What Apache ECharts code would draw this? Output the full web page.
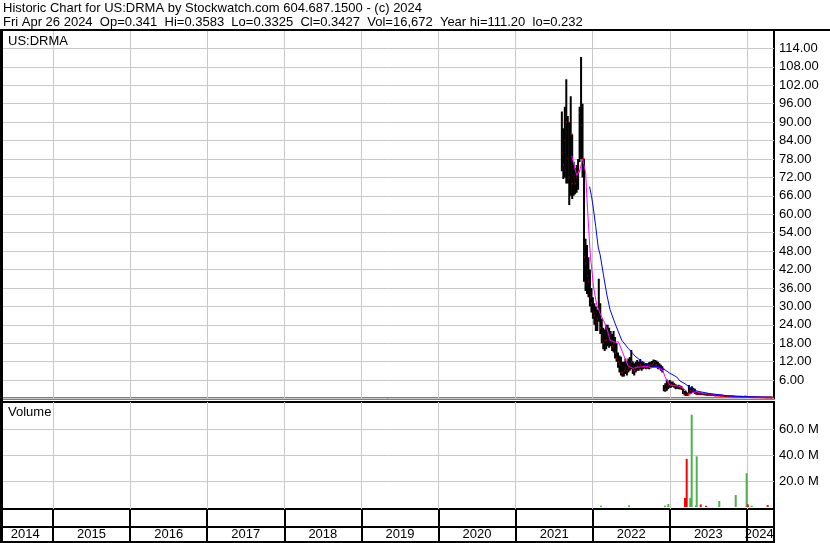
<!DOCTYPE html>
<html>
<head>
<meta charset="utf-8">
<script src="https://cdn.jsdelivr.net/npm/echarts@6/dist/echarts.min.js"></script>
<style>
  html, body { margin: 0; padding: 0; background: #fff; }
  #chart { width: 830px; height: 543px; }
</style>
</head>
<body>
<div id="chart"></div>
<script>
// weekly bars, first week starts early Aug 2021 (decimal years)
const FIRST_WEEK = 2021.60;
const highs = [93.5, 88, 95, 104, 92, 90, 98.4, 86, 77, 75, 76, 78, 95, 111.2, 96,
  78, 52, 50, 46, 42, 36, 33, 31, 30, 29, 39, 31, 26, 23, 22.5, 24, 24, 23, 22, 21, 22, 20,
  18, 15, 14, 13.6, 12, 12, 13, 12, 13, 13.5, 15.8, 12, 11.5, 12, 12.5, 12, 12.9, 12, 12,
  11.5, 11.5, 11.5, 11.8, 12, 12.2, 12.7, 12.5, 12.4, 12, 11.5, 11, 10.5,
  4.4, 5, 6.2, 5.5, 6, 5.5, 5.5, 5, 4.6, 4.4, 4.5, 4.2, 4, 3, 2.5, 2.5, 2,
  4.4, 3.5, 4, 3.5, 3.2, 2.2, 2, 2, 1.9, 1.8, 1.8, 1.7, 1.7, 1.6, 1.6, 1.5, 1.5, 1.4, 1.4,
  1.3, 1.3, 1.2, 1.2, 1.1, 1.1, 1.0, 1.0, 1.0, 0.95, 0.9, 0.9, 0.85, 0.85, 0.8, 0.8, 0.75,
  0.75, 0.7, 0.9, 0.8, 0.7, 0.65, 0.6, 0.6, 0.55, 0.55, 0.52, 0.5, 0.5, 0.48, 0.46, 0.45,
  0.44, 0.44, 0.42, 0.4, 0.3583];
const lows = [74, 71.5, 72, 70, 70, 63, 66, 65, 66, 66.5, 67, 68, 77, 78, 72,
  38, 35, 34, 33, 30, 28, 26, 24, 22, 22, 25, 21, 18, 16, 15.5, 16, 17, 16.5, 17, 15.5, 15, 13,
  12, 10, 8.5, 7.5, 7.1, 7.2, 8, 7.5, 8.5, 9, 9.5, 8, 7.5, 8.5, 9, 9, 9.5, 9, 9.5,
  9.8, 9.5, 9.8, 9.5, 9.8, 10, 10, 10.2, 10, 9.5, 9.5, 9, 8.5,
  2.4, 2.2, 2.5, 3, 3.5, 3.5, 3.8, 3.5, 3, 3.2, 3, 3, 2.8, 1.5, 1, 0.8, 0.8,
  1.5, 1.5, 1.8, 2, 1.5, 1.2, 1.2, 1.2, 1.2, 1.2, 1.1, 1.1, 1.0, 1.0, 1.0, 1.0, 0.9, 0.9, 0.9,
  0.8, 0.8, 0.8, 0.7, 0.7, 0.7, 0.6, 0.6, 0.6, 0.6, 0.55, 0.55, 0.5, 0.5, 0.5, 0.45, 0.45,
  0.45, 0.4, 0.45, 0.4, 0.4, 0.38, 0.35, 0.35, 0.33, 0.33, 0.32, 0.3, 0.3, 0.3, 0.29, 0.29,
  0.28, 0.28, 0.27, 0.3, 0.3325];
const closes = [80, 76, 84, 90, 78, 72, 86, 70, 72, 70, 72, 74, 93, 89, 78,
  46, 44, 40, 38, 33, 31, 28, 27, 25, 26, 30, 23, 20, 18, 19, 19, 21, 19, 19, 17, 18, 15,
  13, 12, 11, 8.5, 8.5, 9, 10, 9, 10, 11, 12, 9.5, 9, 10, 10.5, 10, 11, 10, 10.5,
  10.5, 10, 10.4, 10.5, 11, 11, 11.5, 11, 11, 10.5, 10, 10, 9.5,
  3, 3, 4, 4.5, 5, 4.5, 4.8, 4.2, 4, 4, 3.8, 3.5, 3.2, 2, 1.5, 1.2, 1.2,
  2, 2.5, 2.8, 2.5, 1.8, 1.5, 1.5, 1.4, 1.5, 1.4, 1.3, 1.3, 1.2, 1.2, 1.2, 1.1, 1.1, 1.0, 1.0,
  1.0, 0.9, 0.9, 0.9, 0.8, 0.8, 0.8, 0.7, 0.7, 0.7, 0.65, 0.65, 0.6, 0.6, 0.6, 0.55, 0.55,
  0.5, 0.5, 0.55, 0.5, 0.45, 0.45, 0.42, 0.42, 0.4, 0.4, 0.38, 0.38, 0.36, 0.36, 0.35, 0.35,
  0.34, 0.34, 0.34, 0.35, 0.3427];

// short moving average (magenta)
const maFastT = [2021.728, 2021.793, 2021.829, 2021.870, 2021.909, 2021.922, 2021.943, 2021.956,
  2021.971, 2021.987, 2022.008, 2022.023, 2022.052, 2022.095, 2022.138, 2022.182, 2022.202,
  2022.224, 2022.289, 2022.332, 2022.376, 2022.419, 2022.462, 2022.527, 2022.575, 2022.636,
  2022.691, 2022.743, 2022.808, 2022.873, 2022.912, 2022.938, 2022.970, 2023.003, 2023.054,
  2023.110, 2023.158, 2023.197, 2023.236, 2023.262, 2023.301, 2023.349, 2023.392, 2023.457,
  2023.521, 2023.625, 2023.738, 2023.911, 2024.040, 2024.170, 2024.320];
const maFastV = [79, 72.7, 74, 78, 73.4, 66.7, 57.5, 52, 46, 42.5, 37, 34.5, 30.5, 27.7, 25.5,
  23, 21.2, 19, 18.3, 18.5, 15.8, 13, 10.5, 9.8, 10.2, 10.3, 10.5, 10.1, 10.2, 9.8, 9, 7.1,
  5.5, 4.4, 4.2, 4.1, 3.6, 2.8, 1.8, 1.4, 2.0, 2.2, 1.9, 1.6, 1.5, 1.2, 0.9, 0.6, 0.45, 0.35, 0.3];

// long moving average (blue)
const maSlowT = [2021.959, 2021.984, 2022.008, 2022.039, 2022.073, 2022.095, 2022.138, 2022.182,
  2022.224, 2022.289, 2022.376, 2022.462, 2022.549, 2022.614, 2022.678, 2022.743, 2022.808,
  2022.873, 2022.938, 2023.003, 2023.090, 2023.132, 2023.197, 2023.262, 2023.327, 2023.392,
  2023.521, 2023.651, 2023.781, 2023.975, 2024.170, 2024.320];
const maSlowV = [69, 66, 62, 56, 49, 47, 40.5, 34, 29, 24.5, 19, 16.3, 13.8, 12.5, 11.5, 10.8,
  10.4, 10.3, 9.3, 8.2, 7, 5.7, 4.8, 3.6, 2.6, 2.2, 1.6, 1.2, 0.8, 0.6, 0.5, 0.45];

// volume
const volT = [2022.108, 2022.471, 2022.938, 2022.981, 2023.197, 2023.219, 2023.266, 2023.284,
  2023.340, 2023.349, 2023.401, 2023.470, 2023.642, 2023.855, 2023.997, 2024.012, 2024.062, 2024.270];
const volV = [1.0e6, 1.3e6, 1.0e6, 2.3e6, 7e6, 37e6, 7e6, 71e6, 1e6, 39e6, 2e6, 1e6, 4.6e6,
  9.2e6, 26e6, 2e6, 1e6, 1.5e6];
const volUp = [true, true, true, true, false, false, true, true, false, true, false, false,
  true, true, true, false, true, false];

const yearStarts = [2015, 2016, 2017, 2018, 2019, 2020, 2021, 2022, 2023, 2024];
const yearLabelAt = [2014.64, 2015.5, 2016.5, 2017.5, 2018.5, 2019.5, 2020.5, 2021.5, 2022.5, 2023.5, 2024.16];
const volTicks = [20e6, 40e6, 60e6];

const X_MIN = 2014.3256, X_MAX = 2024.3515;
const FONT = 'Liberation Sans, Arial, sans-serif';
const GRID_GRAY = '#c8c8c8';

const weeks = highs.map((_, i) => FIRST_WEEK + i * 7 / 365.25);
const bars = weeks.map((t, i) => [t, highs[i], lows[i], closes[i]]);

function renderBar(params, api) {
  const t = api.value(0);
  const hi = api.coord([t, api.value(1)]);
  const lo = api.coord([t, api.value(2)]);
  const cl = api.coord([t, api.value(3)]);
  return {
    type: 'group',
    children: [
      { type: 'rect', shape: { x: hi[0] - 1, y: hi[1], width: 2, height: Math.max(lo[1] - hi[1], 1) }, style: { fill: '#000' } },
      { type: 'rect', shape: { x: cl[0], y: cl[1] - 1, width: 2, height: 2 }, style: { fill: '#ff0000' } }
    ]
  };
}

const yearAxis = (gridIndex, color, width) => ({
  type: 'value', gridIndex, min: X_MIN, max: X_MAX,
  axisLine: { show: false },
  axisTick: { show: false, customValues: yearStarts },
  axisLabel: { show: false },
  splitLine: { show: true, lineStyle: { color, width } }
});

const chart = echarts.init(document.getElementById('chart'));

const labelAxis = yearAxis(3, '#000', 2);
labelAxis.axisLabel = {
  show: true, customValues: yearLabelAt, margin: -14,
  color: '#000', fontSize: 13, fontFamily: FONT,
  formatter: v => String(Math.floor(v))
};

chart.setOption({
  animation: false,
  backgroundColor: '#fff',
  title: [
    {
      text: 'Historic Chart for US:DRMA by Stockwatch.com 604.687.1500 - (c) 2024\n' +
        'Fri Apr 26 2024  Op=0.341  Hi=0.3583  Lo=0.3325  Cl=0.3427  Vol=16,672  Year hi=111.20  lo=0.232',
      left: 3, top: 1, padding: 0,
      textStyle: { fontSize: 13, fontWeight: 'normal', color: '#000', fontFamily: FONT, lineHeight: 14 }
    },
    {
      text: 'US:DRMA', left: 8, top: 35, padding: 0,
      textStyle: { fontSize: 13, fontWeight: 'normal', color: '#000', fontFamily: FONT }
    },
    {
      text: 'Volume', left: 8, top: 406, padding: 0,
      textStyle: { fontSize: 13, fontWeight: 'normal', color: '#000', fontFamily: FONT }
    }
  ],
  graphic: [
    { type: 'rect', shape: { x: 0, y: 29, width: 830, height: 2 }, style: { fill: '#000' }, z: 100 },
    { type: 'rect', shape: { x: 0, y: 29, width: 3, height: 514 }, style: { fill: '#000' }, z: 100 }
  ],
  grid: [
    { left: 1, width: 773, top: 30, height: 368.5, show: true, borderColor: '#000', borderWidth: 2, backgroundColor: '#fff' },
    { left: 1, width: 773, top: 402, height: 107, show: true, borderColor: '#000', borderWidth: 2, backgroundColor: '#fff' },
    { left: 1, width: 773, top: 509, height: 18, show: true, borderColor: '#000', borderWidth: 2, backgroundColor: '#fff' },
    { left: 1, width: 773, top: 527, height: 15, show: true, borderColor: '#000', borderWidth: 2, backgroundColor: '#fff' }
  ],
  xAxis: [
    yearAxis(0, GRID_GRAY, 1),
    yearAxis(1, GRID_GRAY, 1),
    yearAxis(2, '#000', 2),
    labelAxis
  ],
  yAxis: [
    {
      type: 'value', gridIndex: 0, position: 'right', min: 0, max: 120, interval: 6,
      axisLine: { show: false }, axisTick: { show: false },
      axisLabel: {
        margin: 5, color: '#000', fontSize: 13, fontFamily: FONT,
        formatter: v => (v > 0 && v < 120) ? v.toFixed(2) : ''
      },
      splitLine: { show: true, lineStyle: { color: GRID_GRAY, width: 1 } }
    },
    {
      type: 'value', gridIndex: 1, position: 'right', min: -2 / 1.3 * 1e6, max: 105 / 1.3 * 1e6,
      axisLine: { show: false },
      axisTick: { show: false, customValues: volTicks },
      axisLabel: {
        customValues: volTicks, margin: 5, color: '#000', fontSize: 13, fontFamily: FONT,
        formatter: v => (v / 1e6).toFixed(1) + ' M'
      },
      splitLine: { show: true, lineStyle: { color: GRID_GRAY, width: 1 } }
    },
    { type: 'value', gridIndex: 2, show: false, min: 0, max: 1, splitLine: { show: false } },
    { type: 'value', gridIndex: 3, show: false, min: 0, max: 1, splitLine: { show: false } }
  ],
  series: [
    {
      type: 'custom', xAxisIndex: 0, yAxisIndex: 0, renderItem: renderBar,
      data: bars, encode: { x: 0, y: [1, 2, 3] }, clip: true, z: 2
    },
    {
      type: 'line', xAxisIndex: 0, yAxisIndex: 0, showSymbol: false, symbol: 'none',
      data: maFastT.map((t, i) => [t, maFastV[i]]),
      lineStyle: { color: '#ff00ff', width: 1 }, z: 3
    },
    {
      type: 'line', xAxisIndex: 0, yAxisIndex: 0, showSymbol: false, symbol: 'none',
      data: maSlowT.map((t, i) => [t, maSlowV[i]]),
      lineStyle: { color: '#0000ff', width: 1 }, z: 4
    },
    {
      type: 'bar', xAxisIndex: 1, yAxisIndex: 1, barWidth: 2,
      data: volT.map((t, i) => ({
        value: [t, volV[i]],
        itemStyle: { color: volUp[i] ? '#4cb34c' : '#ff0000' }
      }))
    }
  ]
});
</script>
</body>
</html>
